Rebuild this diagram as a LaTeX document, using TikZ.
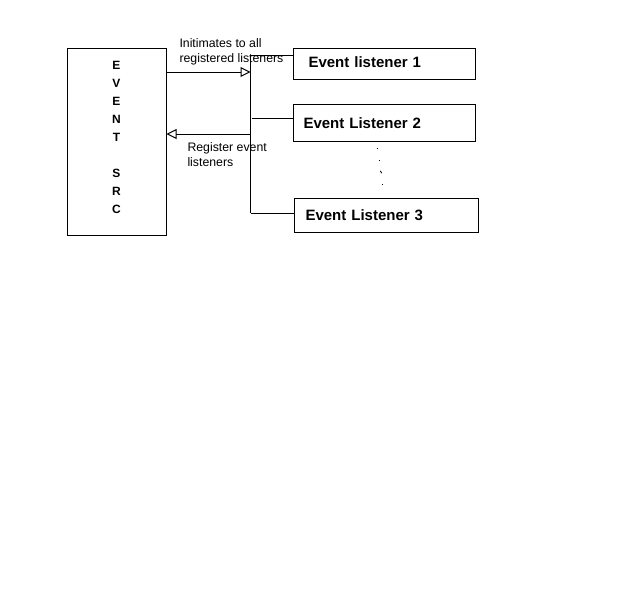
\documentclass[tikz,border=0pt]{standalone}
\usepackage{fontspec}
\setmainfont{Liberation Sans}
\usetikzlibrary{arrows.meta}
\begin{document}
\begin{tikzpicture}[x=1pt,y=-1pt,line width=1pt,
  lbl/.style={font=\fontsize{12.3}{15}\selectfont, align=left, inner sep=0pt, anchor=north west},
  lbox/.style={draw, font=\fontsize{15}{18}\selectfont\bfseries, align=left, anchor=north west, inner ysep=0pt},
  srcbox/.style={draw, font=\fontsize{12}{18}\selectfont\bfseries, align=center, inner sep=0pt},
  opentip/.style={-{Triangle[open,length=10pt,width=10pt]}},
  dot/.style={fill=black}]
\fill[white] (0,0) rectangle (640,600);
\useasboundingbox (0,0) rectangle (640,600);
% event source
\node[srcbox, minimum width=99pt, minimum height=187pt, text depth=9pt] (src) at (116.5,141.5)
  {E\\V\\E\\N\\T\\[18pt]S\\R\\C};
% listener boxes
\node[lbox, minimum height=31pt, text width=152pt, inner xsep=15pt, text depth=3.7pt] (l1) at (293,48) {Event listener 1};
\node[lbox, minimum height=36.5pt, text width=162pt, inner xsep=10pt] (l2) at (293,104) {Event Listener 2};
\node[lbox, minimum height=34.5pt, text width=162pt, inner xsep=11pt] (l3) at (294,197.5) {Event Listener 3};
% bus
\coordinate (btop) at (250.5,55);
\coordinate (bbot) at (250.5,213);
\coordinate (b2) at (252,118);
\coordinate (a1) at (250.5,72);
\coordinate (a2) at (250.5,134);
\draw (btop) -- (bbot);
\draw (btop) -- (btop -| l1.west);
\draw (b2) -- (b2 -| l2.west);
\draw (bbot) -- (bbot -| l3.west);
\draw[opentip] (a1 -| src.east) -- (a1);
\draw[opentip] (a2) -- (a2 -| src.east);
% labels
\node[lbl] (t1) at (179,38.3) {Initimates to all\\registered listeners};
\node[lbl] (t2) at (187,142.4) {Register event\\listeners};
% dots
\fill[dot] (376.5,147.5) rectangle ++(1,1);
\fill[dot] (378.5,159.5) rectangle ++(1,1);
\draw[line width=0.8pt] (380.3,170.8) -- (381.7,173.2);
\fill[dot] (381.5,183.5) rectangle ++(1,1);
\end{tikzpicture}
\end{document}
